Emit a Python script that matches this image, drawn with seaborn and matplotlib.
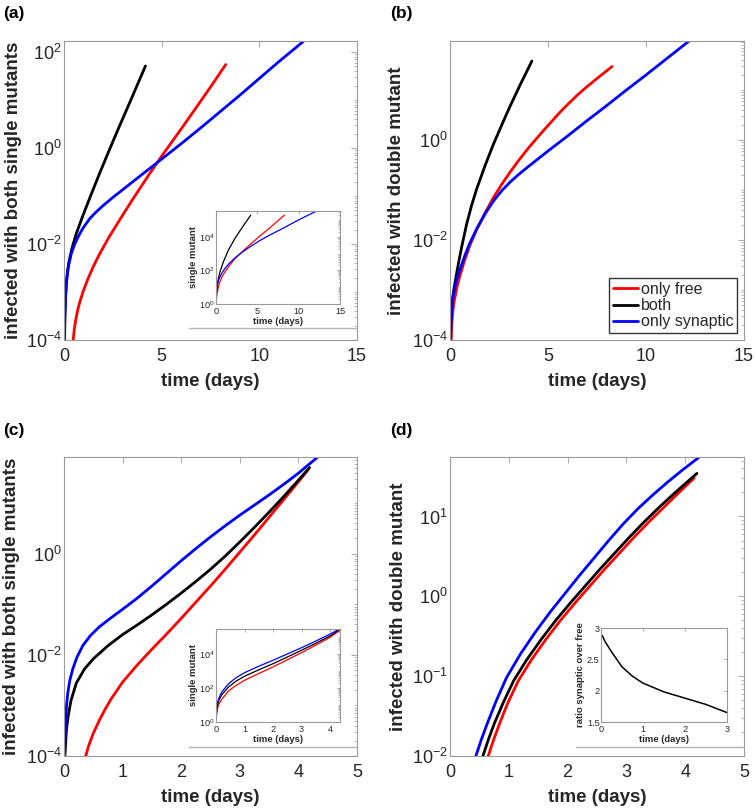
import numpy as np
import pandas as pd
import matplotlib
matplotlib.use("Agg")
import matplotlib.pyplot as plt
import seaborn as sns
from matplotlib.ticker import LogLocator, NullFormatter, LogFormatterSciNotation
from matplotlib.lines import Line2D

sns.set_style("white")
plt.rcParams["font.family"] = ["Liberation Sans", "DejaVu Sans"]
plt.rcParams["mathtext.default"] = "regular"

# ---------------- data (log10 of values) ----------------
SERIES = ["only free", "both", "only synaptic"]
COLORS = {"only free": "#ff0000", "both": "#000000", "only synaptic": "#0000ff"}

# panel (a): infected with both single mutants
a_free_t = [0.47, 0.52, 0.6, 0.7, 0.8, 0.97, 1.2, 1.5, 1.83, 2.3, 2.8, 3.53, 4.39, 4.98, 6.09, 6.95, 7.6, 8.28]
a_free_log = [-4, -3.8, -3.58, -3.38, -3.22, -3.0, -2.75, -2.47, -2.2, -1.86, -1.53, -1.06, -0.53, -0.18, 0.45, 0.95, 1.33, 1.74]
a_both_t = [0.02, 0.04, 0.07, 0.12, 0.18, 0.25, 0.4, 0.6, 0.9, 1.3, 1.8, 2.3, 2.8, 3.4, 4.17]
a_both_log = [-4, -3.55, -3.15, -2.8, -2.57, -2.38, -2.1, -1.82, -1.48, -1.06, -0.55, -0.06, 0.42, 0.98, 1.71]
a_syn_t = [0.03, 0.05, 0.08, 0.12, 0.18, 0.25, 0.375, 0.55, 0.75, 0.97, 1.3, 1.6, 2.0, 2.5, 3.0, 3.53, 4.25, 5.0, 6.0, 7.0, 8.0, 9.0, 10.0, 11.0, 12.25]
a_syn_log = [-4, -3.5, -3.1, -2.83, -2.6, -2.42, -2.2, -2.0, -1.83, -1.67, -1.48, -1.35, -1.2, -1.03, -0.87, -0.7, -0.47, -0.23, 0.09, 0.42, 0.76, 1.1, 1.45, 1.8, 2.22]

# inset (a): single mutant
ai_free_t = [0.0, 0.03, 0.08, 0.16, 0.3, 0.48, 0.75, 1.09, 1.6, 2.3, 3.3, 4.31, 5.3, 6.33, 7.3, 8.27]
ai_free_log = [0.0, 0.2, 0.45, 0.73, 1.05, 1.33, 1.65, 1.92, 2.27, 2.71, 3.18, 3.62, 4.05, 4.46, 4.88, 5.29]
ai_both_t = [0.0, 0.03, 0.08, 0.16, 0.3, 0.48, 0.89, 1.49, 2.3, 3.3, 4.19]
ai_both_log = [0.0, 0.45, 0.8, 1.13, 1.55, 1.92, 2.51, 3.2, 3.92, 4.65, 5.29]
ai_syn_t = [0.0, 0.03, 0.08, 0.16, 0.3, 0.48, 0.75, 1.09, 1.6, 2.3, 3.3, 4.31, 5.3, 6.33, 7.3, 8.35, 9.3, 10.36, 11.3, 12.18]
ai_syn_log = [0.0, 0.4, 0.8, 1.13, 1.42, 1.62, 1.88, 2.12, 2.42, 2.75, 3.13, 3.47, 3.78, 4.06, 4.31, 4.57, 4.83, 5.1, 5.33, 5.54]

# panel (b): infected with double mutant
b_free_t = [0.06, 0.08, 0.12, 0.2, 0.35, 0.5, 0.75, 1.0, 1.36, 1.8, 2.22, 2.65, 3.07, 3.5, 4.0, 4.77, 5.6, 6.0, 6.5, 7.0, 7.5, 8.27]
b_free_log = [-4, -3.78, -3.52, -3.25, -2.95, -2.72, -2.4, -2.12, -1.79, -1.45, -1.15, -0.88, -0.64, -0.41, -0.16, 0.19, 0.55, 0.71, 0.9, 1.07, 1.23, 1.47]
b_both_t = [0.02, 0.04, 0.07, 0.12, 0.2, 0.3, 0.43, 0.6, 0.85, 1.1, 1.36, 1.8, 2.22, 2.65, 3.07, 3.6, 4.18]
b_both_log = [-4, -3.7, -3.45, -3.2, -2.98, -2.75, -2.47, -2.13, -1.68, -1.31, -0.98, -0.5, -0.08, 0.31, 0.68, 1.12, 1.58]
b_syn_t = [0.03, 0.05, 0.08, 0.15, 0.3, 0.5, 0.75, 1.0, 1.36, 1.8, 2.22, 2.65, 3.07, 3.5, 4.0, 5.0, 6.0, 7.0, 8.0, 9.0, 10.0, 11.0, 12.2]
b_syn_log = [-4, -3.7, -3.45, -3.15, -2.85, -2.6, -2.32, -2.07, -1.78, -1.47, -1.22, -1.01, -0.84, -0.69, -0.53, -0.22, 0.08, 0.39, 0.69, 1.0, 1.3, 1.61, 1.98]

# panel (c): infected with both single mutants
c_free_t = [0.37, 0.42, 0.5, 0.6, 0.7, 0.8, 1.0, 1.25, 1.5, 1.75, 2.0, 2.25, 2.5, 2.75, 3.0, 3.25, 3.5, 3.75, 4.0, 4.16]
c_free_log = [-4, -3.8, -3.55, -3.3, -3.08, -2.88, -2.54, -2.2, -1.89, -1.59, -1.28, -0.96, -0.64, -0.31, 0.03, 0.37, 0.72, 1.07, 1.42, 1.65]
c_both_t = [0.015, 0.04, 0.07, 0.12, 0.21, 0.35, 0.5, 0.75, 1.0, 1.25, 1.5, 1.75, 2.0, 2.25, 2.5, 2.75, 3.0, 3.25, 3.5, 3.75, 4.0, 4.19]
c_both_log = [-4, -3.5, -3.22, -2.9, -2.56, -2.28, -2.08, -1.82, -1.6, -1.41, -1.21, -1.0, -0.78, -0.55, -0.31, -0.05, 0.23, 0.52, 0.82, 1.13, 1.45, 1.7]
c_syn_t = [0.01, 0.02, 0.03, 0.045, 0.065, 0.1, 0.15, 0.22, 0.32, 0.45, 0.6, 0.8, 1.0, 1.25, 1.5, 1.75, 2.0, 2.25, 2.5, 2.75, 3.0, 3.25, 3.5, 3.75, 4.0, 4.32]
c_syn_log = [-4, -3.55, -3.25, -2.98, -2.75, -2.5, -2.28, -2.05, -1.82, -1.62, -1.45, -1.27, -1.1, -0.88, -0.64, -0.39, -0.14, 0.1, 0.33, 0.55, 0.76, 0.96, 1.16, 1.37, 1.59, 1.9]

# inset (c): single mutant
ci_free_t = [0.0, 0.02, 0.05, 0.1, 0.2, 0.44, 0.7, 1.0, 1.5, 2.0, 2.5, 3.0, 3.5, 4.0, 4.35]
ci_free_log = [0.0, 0.45, 0.8, 1.05, 1.33, 1.82, 2.15, 2.45, 2.85, 3.24, 3.66, 4.08, 4.52, 4.98, 5.4]
ci_both_t = [0.0, 0.02, 0.05, 0.1, 0.2, 0.44, 0.7, 1.0, 1.5, 2.0, 2.5, 3.0, 3.5, 4.0, 4.35]
ci_both_log = [0.0, 0.6, 0.98, 1.28, 1.6, 2.06, 2.4, 2.69, 3.07, 3.43, 3.82, 4.22, 4.63, 5.06, 5.45]
ci_syn_t = [0.0, 0.02, 0.05, 0.1, 0.2, 0.44, 0.7, 1.0, 1.5, 2.0, 2.5, 3.0, 3.5, 4.0, 4.35]
ci_syn_log = [0.0, 0.7, 1.1, 1.4, 1.76, 2.25, 2.6, 2.9, 3.28, 3.63, 4.0, 4.37, 4.76, 5.17, 5.49]

# panel (d): infected with double mutant
d_free_t = [0.65, 0.74, 0.84, 0.98, 1.16, 1.38, 1.63, 1.88, 2.13, 2.38, 2.63, 2.88, 3.13, 3.38, 3.63, 3.88, 4.15]
d_free_log = [-2, -1.8, -1.6, -1.34, -1.06, -0.8, -0.54, -0.3, -0.08, 0.13, 0.34, 0.54, 0.74, 0.93, 1.11, 1.29, 1.48]
d_both_t = [0.56, 0.65, 0.75, 0.9, 1.08, 1.3, 1.55, 1.8, 2.05, 2.3, 2.55, 2.8, 3.05, 3.3, 3.55, 3.8, 4.0, 4.2]
d_both_log = [-2, -1.8, -1.6, -1.34, -1.06, -0.8, -0.54, -0.3, -0.08, 0.13, 0.34, 0.54, 0.74, 0.93, 1.11, 1.28, 1.41, 1.54]
d_syn_t = [0.44, 0.53, 0.63, 0.78, 0.96, 1.2, 1.45, 1.7, 1.95, 2.2, 2.45, 2.7, 2.95, 3.2, 3.45, 3.7, 3.95, 4.32]
d_syn_log = [-2, -1.8, -1.6, -1.32, -1.02, -0.72, -0.45, -0.2, 0.03, 0.26, 0.48, 0.7, 0.91, 1.1, 1.27, 1.43, 1.58, 1.79]

# inset (d): ratio synaptic over free
ratio_t = [0.03, 0.1, 0.25, 0.5, 0.75, 1.0, 1.5, 2.0, 2.5, 3.0]
ratio_v = [2.88, 2.78, 2.62, 2.38, 2.23, 2.12, 1.98, 1.88, 1.78, 1.65]


def frame(free_t, free_log, both_t, both_log, syn_t, syn_log):
    parts = []
    for name, t, lg in zip(SERIES, [free_t, both_t, syn_t], [free_log, both_log, syn_log]):
        parts.append(pd.DataFrame({"time": t, "value": np.power(10.0, lg), "series": name}))
    return pd.concat(parts, ignore_index=True)


W, H = 755, 809
fig = plt.figure(figsize=(W / 100, H / 100), dpi=100)


def box(l, t, r, b):
    return [l / W, 1 - b / H, (r - l) / W, (b - t) / H]


FRAME = "#9a9a9a"
TXT = "#262626"


def style(ax, fs, logy=True, big=True):
    for s in ax.spines.values():
        s.set_color(FRAME)
        s.set_linewidth(0.8)
    ax.tick_params(which="both", direction="in", top=True, right=True,
                   color=FRAME, labelcolor=TXT)
    ax.tick_params(which="major", length=4 if big else 2.5, width=0.6,
                   labelsize=fs, pad=6 if big else 2)
    ax.tick_params(axis="y", which="major", pad=1.5 if big else 1)
    ax.tick_params(which="minor", length=2 if big else 1.3, width=0.5)
    if logy:
        ax.yaxis.set_minor_locator(LogLocator(base=10, subs=np.arange(1, 10) * 1.0, numticks=100))
        ax.yaxis.set_minor_formatter(NullFormatter())
        ax.yaxis.set_major_formatter(LogFormatterSciNotation())
    ax.grid(False)


def main_panel(rect, df, xlim, xticks, ylim, yticks, ylabel, ylab_x, legend=False):
    ax = fig.add_axes(rect)
    sns.lineplot(data=df, x="time", y="value", hue="series", hue_order=SERIES,
                 palette=COLORS, estimator=None, sort=False, linewidth=2.0,
                 ax=ax, legend=legend, solid_joinstyle="round")
    ax.set_yscale("log")
    ax.set_xlim(*xlim)
    ax.set_ylim(*ylim)
    ax.set_xticks(xticks)
    ax.set_yticks(yticks)
    style(ax, 13)
    ax.set_xlabel("time (days)", fontsize=13.5, fontweight="bold", color=TXT)
    ax.set_ylabel(ylabel, fontsize=13.5, fontweight="bold", color=TXT)
    ax.xaxis.set_label_coords(0.5, -0.112)
    ax.yaxis.set_label_coords(ylab_x, 0.5)
    return ax


def inset_panel(rect, df, xlim, xticks, ylim, yticks):
    ax = fig.add_axes(rect)
    sns.lineplot(data=df, x="time", y="value", hue="series", hue_order=SERIES,
                 palette=COLORS, estimator=None, sort=False, linewidth=0.9,
                 ax=ax, legend=False, solid_joinstyle="round")
    ax.set_yscale("log")
    ax.set_xlim(*xlim)
    ax.set_ylim(*ylim)
    ax.set_xticks(xticks)
    ax.set_yticks(yticks)
    style(ax, 6.6, big=False)
    ax.set_xlabel("time (days)", fontsize=6.8, fontweight="bold", color=TXT, labelpad=1)
    ax.set_ylabel("single mutant", fontsize=6.8, fontweight="bold", color=TXT, labelpad=1)
    return ax


# (a)
df_a = frame(a_free_t, a_free_log, a_both_t, a_both_log, a_syn_t, a_syn_log)
main_panel(box(64, 41, 357, 340), df_a, (0, 15), [0, 5, 10, 15], (1e-4, 10 ** 2.23),
           [1e-4, 1e-2, 1e0, 1e2], "infected with both single mutants", -0.143)
df_ai = frame(ai_free_t, ai_free_log, ai_both_t, ai_both_log, ai_syn_t, ai_syn_log)
inset_panel(box(216, 211, 340, 304), df_ai, (0, 15), [0, 5, 10, 15], (1, 10 ** 5.54), [1e0, 1e2, 1e4])

# (b)
df_b = frame(b_free_t, b_free_log, b_both_t, b_both_log, b_syn_t, b_syn_log)
ax_b = main_panel(box(450, 41, 744, 340), df_b, (0, 15), [0, 5, 10, 15], (1e-4, 10 ** 1.98),
                  [1e-4, 1e-2, 1e0], "infected with double mutant", -0.153, legend=True)
leg = ax_b.legend(loc="lower right", bbox_to_anchor=(0.977, 0.022), borderaxespad=0,
                  fontsize=11.5, frameon=True, fancybox=False, borderpad=0.25,
                  labelspacing=0.08, handlelength=1.55, handletextpad=0.15)
leg.get_frame().set_edgecolor("black")
leg.get_frame().set_linewidth(1.0)
for h in leg.get_lines():
    h.set_linewidth(2.0)

# (c)
df_c = frame(c_free_t, c_free_log, c_both_t, c_both_log, c_syn_t, c_syn_log)
main_panel(box(64, 457, 357, 756), df_c, (0, 5), [0, 1, 2, 3, 4, 5], (1e-4, 10 ** 1.91),
           [1e-4, 1e-2, 1e0], "infected with both single mutants", -0.15)
df_ci = frame(ci_free_t, ci_free_log, ci_both_t, ci_both_log, ci_syn_t, ci_syn_log)
inset_panel(box(216, 629, 340, 722), df_ci, (0, 4.35), [0, 1, 2, 3, 4], (1, 10 ** 5.47), [1e0, 1e2, 1e4])

# (d)
df_d = frame(d_free_t, d_free_log, d_both_t, d_both_log, d_syn_t, d_syn_log)
main_panel(box(450, 457, 744, 756), df_d, (0, 5), [0, 1, 2, 3, 4, 5], (1e-2, 10 ** 1.745),
           [1e-2, 1e-1, 1e0, 1e1], "infected with double mutant", -0.146)
ax_di = fig.add_axes(box(601, 628, 727, 722))
sns.lineplot(x=ratio_t, y=ratio_v, color="black", linewidth=1.1, ax=ax_di)
ax_di.set_xlim(0, 3)
ax_di.set_ylim(1.5, 3)
ax_di.set_xticks([0, 1, 2, 3])
ax_di.set_yticks([1.5, 2, 2.5, 3])
ax_di.set_yticklabels(["1.5", "2", "2.5", "3"])
style(ax_di, 6.6, logy=False, big=False)
ax_di.set_xlabel("time (days)", fontsize=6.8, fontweight="bold", color=TXT, labelpad=1)
ax_di.set_ylabel("ratio synaptic over free", fontsize=6.8, fontweight="bold", color=TXT, labelpad=1)

# gray inset-box artefact lines
for x0, x1, y in [(189, 357, 328), (189, 357, 747), (576, 744, 747)]:
    fig.add_artist(Line2D([x0 / W, x1 / W], [1 - y / H, 1 - y / H], transform=fig.transFigure,
                          color="#b4b4b4", linewidth=1.0))

# panel letters
for lab, x, y in [("(a)", 3, 6), ("(b)", 390, 6), ("(c)", 3, 423), ("(d)", 390, 423)]:
    fig.text(x / W, 1 - y / H, lab, fontsize=12.5, fontweight="bold", va="top", ha="left", color="black")

fig.savefig("out.png", dpi=100)
